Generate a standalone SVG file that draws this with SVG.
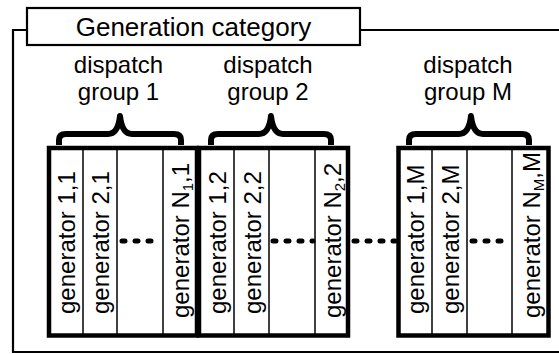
<svg xmlns="http://www.w3.org/2000/svg" width="559" height="354" viewBox="0 0 559 354">
  <style>
    text { font-family: "Liberation Sans", Arial, sans-serif; fill: #000; }
    .title { font-size: 26px; text-anchor: middle; }
    .lbl { font-size: 24px; text-anchor: middle; }
    .gen { font-size: 24px; }
    .sub { font-size: 15px; }
    .frame { fill: none; stroke: #000; stroke-width: 2.2; }
    .grp { fill: #fff; stroke: #000; stroke-width: 4.5; stroke-linejoin: miter; }
    .col { stroke: #000; stroke-width: 1.5; }
    .brace { fill: none; stroke: #000; stroke-width: 6; stroke-linejoin: round; }
    .dots { stroke: #000; stroke-width: 5; stroke-linecap: round; stroke-dasharray: 3 10; }
  </style>
  <rect width="559" height="354" fill="#fff"/>

  <!-- category frame with its header tab -->
  <g id="category">
    <path class="frame" d="M27,30 H13 V352 H559 M360,30 H559"/>
    <rect class="frame" x="27" y="8" width="333" height="37" fill="#fff"/>
    <text class="title" x="193.5" y="35.5">Generation category</text>
  </g>

  <!-- dispatch group 1 -->
  <g id="group1">
    <text class="lbl" x="118.5" y="73">dispatch</text>
    <text class="lbl" x="118.5" y="100">group 1</text>
    <path class="brace" d="M59,145 V140 Q59,134 66,134 H108 Q118,134 120,116 Q122,134 132,134 H174 Q181,134 181,140 V145"/>
    <rect class="grp" x="49" y="148" width="148" height="187.5"/>
    <line class="col" x1="83" y1="148" x2="83" y2="335.5"/>
    <line class="col" x1="117" y1="148" x2="117" y2="335.5"/>
    <line class="col" x1="163" y1="148" x2="163" y2="335.5"/>
    <text class="gen" transform="translate(75,314) rotate(-90)">generator 1,1</text>
    <text class="gen" transform="translate(109,314) rotate(-90)">generator 2,1</text>
    <line class="dots" x1="122" y1="241" x2="161" y2="241"/>
    <text class="gen" transform="translate(189,318) rotate(-90)">generator N<tspan class="sub" dy="4">1</tspan><tspan dy="-4">,1</tspan></text>
  </g>

  <!-- dispatch group 2 -->
  <g id="group2">
    <text class="lbl" x="268" y="73">dispatch</text>
    <text class="lbl" x="268" y="100">group 2</text>
    <path class="brace" d="M211,145 V140 Q211,134 218,134 H259 Q269,134 271,116 Q273,134 283,134 H324 Q331,134 331,140 V145"/>
    <rect class="grp" x="199" y="148" width="149" height="187.5"/>
    <line class="col" x1="234" y1="148" x2="234" y2="335.5"/>
    <line class="col" x1="269" y1="148" x2="269" y2="335.5"/>
    <line class="col" x1="315" y1="148" x2="315" y2="335.5"/>
    <text class="gen" transform="translate(226,314) rotate(-90)">generator 1,2</text>
    <text class="gen" transform="translate(261,314) rotate(-90)">generator 2,2</text>
    <line class="dots" x1="273" y1="241" x2="313" y2="241"/>
    <text class="gen" transform="translate(341,318) rotate(-90)">generator N<tspan class="sub" dy="4">2</tspan><tspan dy="-4">,2</tspan></text>
  </g>

  <!-- dispatch group M -->
  <g id="groupM">
    <text class="lbl" x="468" y="73">dispatch</text>
    <text class="lbl" x="468" y="100">group M</text>
    <path class="brace" d="M409,145 V140 Q409,134 416,134 H459 Q469,134 471,116 Q473,134 483,134 H522 Q529,134 529,140 V145"/>
    <rect class="grp" x="398.5" y="148" width="150" height="187.5"/>
    <line class="col" x1="432" y1="148" x2="432" y2="335.5"/>
    <line class="col" x1="467" y1="148" x2="467" y2="335.5"/>
    <line class="col" x1="512" y1="148" x2="512" y2="335.5"/>
    <text class="gen" transform="translate(424,314) rotate(-90)">generator 1,M</text>
    <text class="gen" transform="translate(459,314) rotate(-90)">generator 2,M</text>
    <line class="dots" x1="472" y1="241" x2="510" y2="241"/>
    <text class="gen" transform="translate(540,318) rotate(-90)">generator N<tspan class="sub" dy="4">M</tspan><tspan dy="-4">,M</tspan></text>
  </g>

  <!-- connectors: ellipsis between group 2 and group M -->
  <g id="connectors">
    <line class="dots" x1="354" y1="241" x2="395" y2="241"/>
  </g>
</svg>
